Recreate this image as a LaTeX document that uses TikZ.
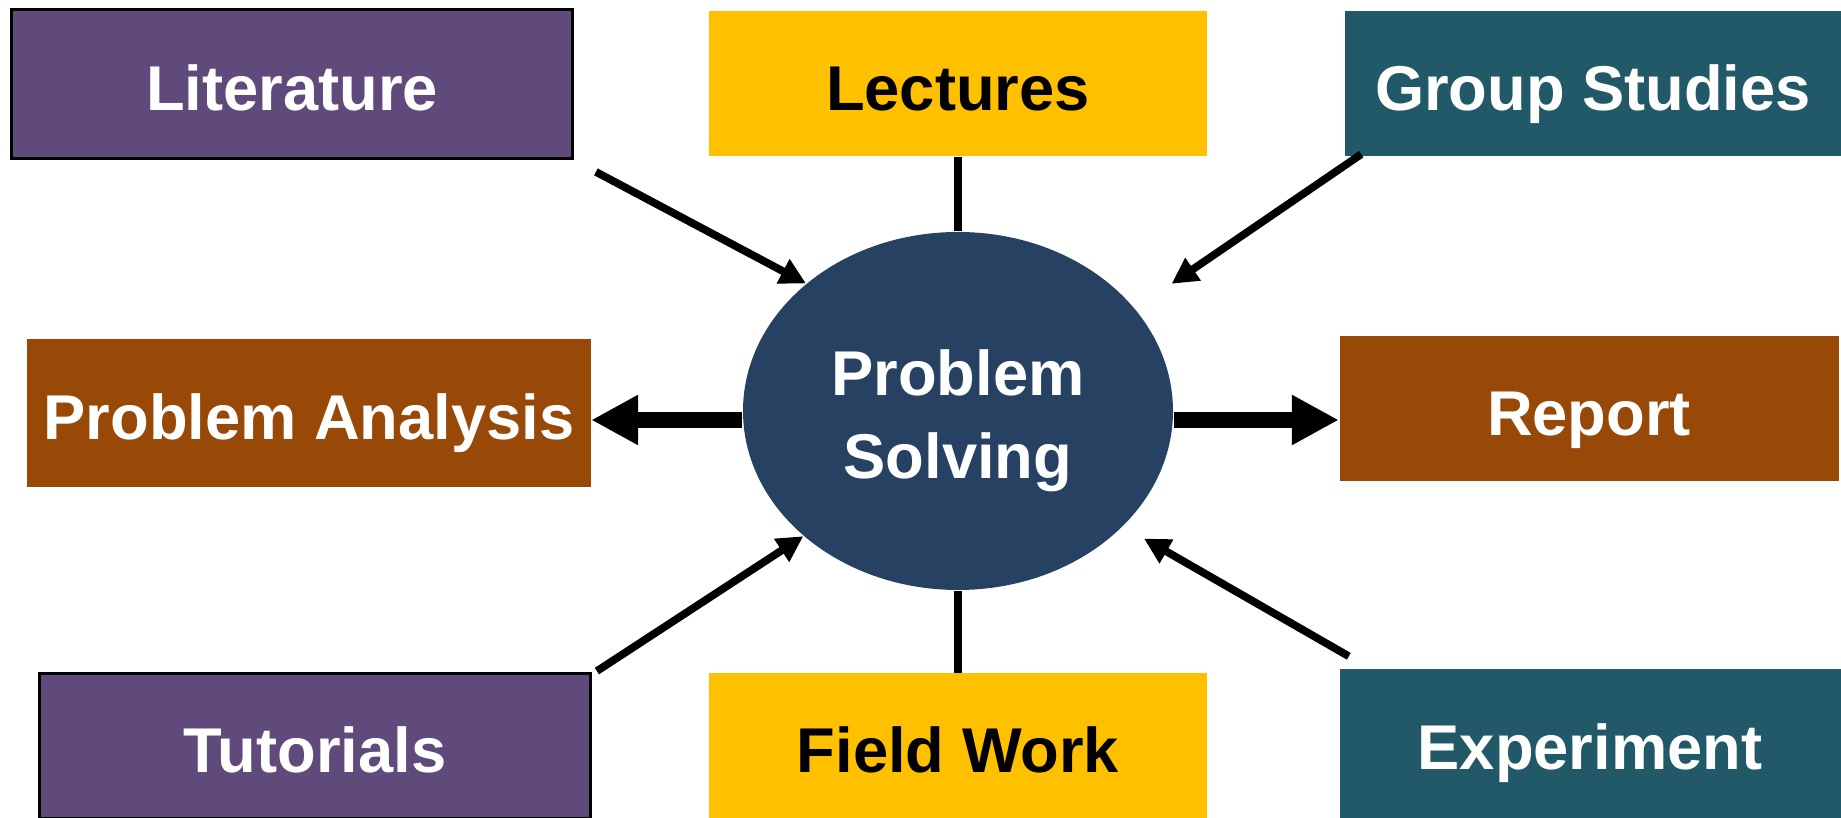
\documentclass[tikz,border=0pt]{standalone}
\usepackage{fontspec}
\setmainfont{Liberation Sans}
\usetikzlibrary{arrows.meta,shapes.geometric}
\definecolor{purp}{HTML}{604A7B}
\definecolor{gold}{HTML}{FFC000}
\definecolor{teal}{HTML}{215968}
\definecolor{rust}{HTML}{984807}
\definecolor{navy}{HTML}{274163}

\begin{document}
\begin{tikzpicture}[
    box/.style={rectangle, inner sep=0pt, minimum height=1.45cm, text height=14.9pt, text depth=0pt,
                font=\fontsize{18}{22}\selectfont\bfseries},
    feed/.style={line width=2.2pt, -{Triangle[length=2.6mm,width=2.6mm]}},
    bigarrow/.style={line width=4.5pt, -{Triangle[length=4.7mm,width=4.7mm]}},
    plain/.style={line width=2pt}
]
    \useasboundingbox (0,0) rectangle (18.41,8.18);
    \node[box, fill=purp, draw=black, line width=0.8pt, text=white, minimum width=5.61cm, minimum height=1.49cm] (lit) at (2.92,7.34) {Literature};
    \node[box, fill=gold, minimum width=4.98cm] (lec) at (9.58,7.34) {Lectures};
    \node[box, fill=teal, text=white, minimum width=4.96cm] (grp) at (15.93,7.34) {Group Studies};
    \node[box, fill=rust, text=white, minimum width=5.63cm, minimum height=1.48cm] (pa) at (3.09,4.05) {Problem Analysis};
    \node[box, fill=rust, text=white, minimum width=4.99cm] (rep) at (15.89,4.09) {Report};
    \node[box, fill=purp, draw=black, line width=0.8pt, text=white, minimum width=5.51cm] (tut) at (3.15,0.72) {Tutorials};
    \node[box, fill=gold, minimum width=4.98cm] (fw) at (9.58,0.72) {Field Work};
    \node[box, fill=teal, text=white, minimum width=5.01cm, minimum height=1.49cm] (exp) at (15.90,0.745) {Experiment};
    \node[ellipse, fill=navy, inner sep=0pt, minimum width=4.30cm, minimum height=3.58cm, text=white, align=center,
          text height=38.2pt, text depth=0pt,
          font=\fontsize{18}{23.5}\selectfont\bfseries] (ps) at (9.58,4.07) {Problem\\Solving};
    \coordinate (psw) at ([yshift=-0.9mm]ps.west);
    \coordinate (pse) at ([yshift=-0.9mm]ps.east);

    \draw[plain] (lec) -- (ps);
    \draw[plain] (ps) -- (fw);
    \draw[bigarrow] (psw) -- (pa.east |- psw);
    \draw[bigarrow] (pse) -- (rep.west |- pse);

    \draw[feed] ([shift={(0.22,-0.12)}]lit.south east) -- (ps.140);
    \draw[feed, shorten >=4.4mm] ([shift={(0.17,0.03)}]grp.south west) -- (ps.30);
    \draw[feed] ([shift={(0.05,0.01)}]tut.north east) -- (ps.219);
    \draw[feed, shorten >=2.4mm] ([shift={(0.10,0.12)}]exp.north west) -- (ps.-35);
\end{tikzpicture}
\end{document}
